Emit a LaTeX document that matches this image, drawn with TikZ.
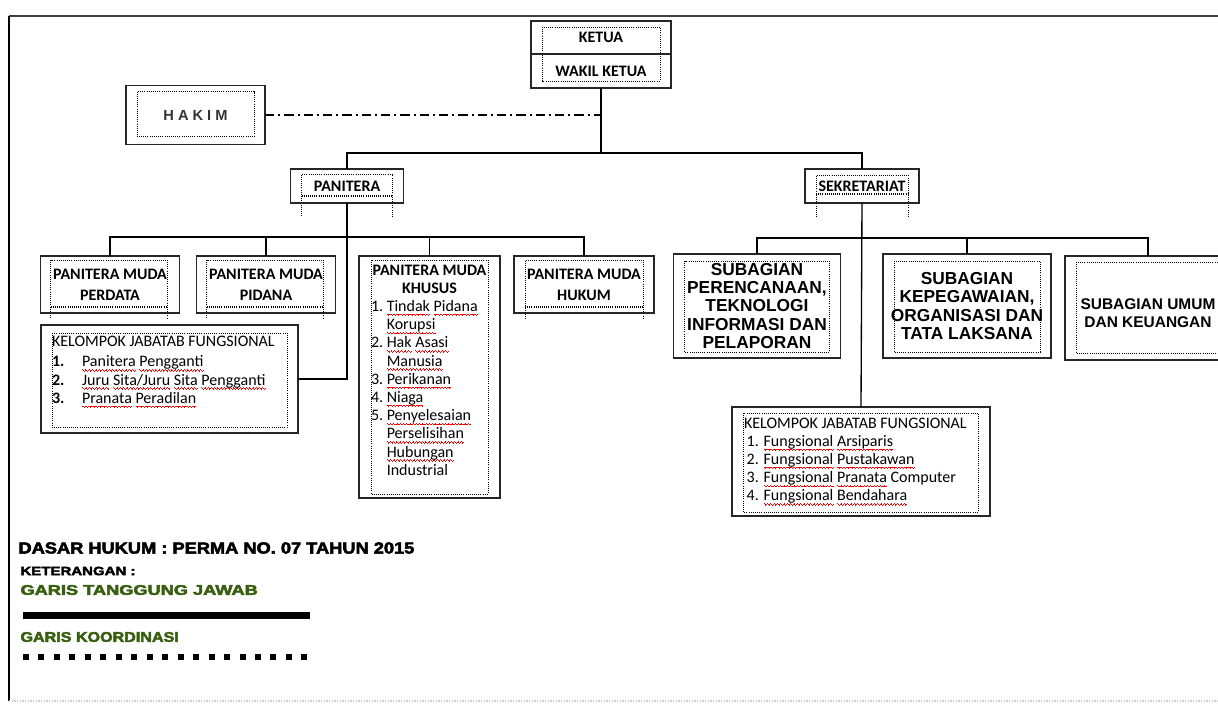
\documentclass[tikz,border=0pt]{standalone}
\usepackage{fontspec}
\setmainfont{Carlito}
\newfontfamily\arialfont{Liberation Sans}
\newfontfamily\blackfont{Liberation Sans}[FakeBold=3]
\usetikzlibrary{positioning,calc}

\definecolor{legendgreen}{RGB}{55,95,15}

% red spell-check wave under a word
\newcommand\sq[1]{\setbox0=\hbox{#1}\rlap{\color{red}\hbox to\wd0{\xleaders\hbox{\rule[-2.2pt]{0.6pt}{0.45pt}\rule[-2.7pt]{0.6pt}{0.45pt}\rule[-3.2pt]{0.6pt}{0.45pt}\rule[-2.7pt]{0.6pt}{0.45pt}}\hfil}}\box0\relax}

\tikzset{every picture/.style={line width=0.75pt}}
\tikzset{
  box/.style={draw=black!85, line width=1.1pt, fill=white, inner sep=0pt, outer sep=0pt, align=center, font=\fontsize{12}{13.65}\selectfont\bfseries},
  subbox/.style={box, font=\arialfont\fontsize{13}{13.7}\selectfont\bfseries},
  listbox/.style={draw=black!85, line width=1.1pt, fill=white, outer sep=0pt, font=\fontsize{12}{13.65}\selectfont},
  dotframe/.style={line width=0.6pt, densely dotted},
  link/.style={line width=1pt},
  coordline/.style={line width=1pt, dash pattern={on 7pt off 3pt on 1.5pt off 3pt}},
}

\begin{document}
\begin{tikzpicture}[x=0.75pt,y=0.75pt,yscale=-1,xscale=1]
        \useasboundingbox (0,0) rectangle (1218,707);
        \clip (0,0) rectangle (1218,707);

        % frame of the page
        \draw [line width=1.5pt, black!75] (9,16) -- (1218,16) ;
        \draw [line width=1.1pt] (9,16) -- (9,701) ;
        \draw [line width=1pt, black!20, densely dotted] (9,701) -- (1218,701) ;

        % Ketua / Wakil Ketua
        \node [box, minimum width=105pt, minimum height=24.75pt] (ketua) at (601,37.5) {KETUA};
        \node [box, minimum width=105pt, minimum height=25.5pt, below=0pt of ketua] (wakil) {WAKIL KETUA};
        \draw [dotframe] ($(ketua.north west)+(11,6)$) rectangle ($(wakil.south east)+(-11,-7)$) ;

        % Hakim
        \node [box, font=\arialfont\fontsize{11}{13}\selectfont\bfseries, text=black!80, minimum width=104.25pt, minimum height=44.25pt] (hakim) at (195.5,115) {\spaceskip=3pt H A K I M};
        \draw [dotframe] ($(hakim.north west)+(11,6)$) rectangle ($(hakim.south east)+(-11,-8)$) ;

        % Panitera and Sekretariat
        \node [box, minimum width=84.75pt, minimum height=25.5pt] (panitera) at (347,186) {PANITERA};
        \node [box, minimum width=85.5pt, minimum height=25.5pt] (sekretariat) at (862,186) {SEKRETARIAT};

        % Panitera Muda
        \node [box, minimum width=104.25pt, minimum height=42.75pt] (perdata) at (110,284.5) {PANITERA MUDA\\[2pt]PERDATA};
        \node [box, minimum width=104.25pt, minimum height=42.75pt] (pidana) at (266,284.5) {PANITERA MUDA\\[2pt]PIDANA};
        \node [box, minimum width=105pt, minimum height=42.75pt] (hukum) at (584,284.5) {PANITERA MUDA\\[2pt]HUKUM};
        \node [listbox, inner xsep=9pt, inner ysep=6.5pt] (khusus) at (429.5,377) {\parbox[c][168.5pt][t]{87.75pt}{%
            {\centering\bfseries PANITERA MUDA\\KHUSUS\par}%
            \begin{tabular}[t]{@{}l@{\ }l@{}}
              1. & \sq{Tindak} \sq{Pidana}\\ & \sq{Korupsi}\\ 2. & \sq{Hak} \sq{Asasi}\\ & \sq{Manusia}\\ 3. & \sq{Perikanan}\\ 4. & \sq{Niaga}\\
              5. & \sq{Penyelesaian}\\ & \sq{Perselisihan}\\ & \sq{Hubungan}\\ & Industrial
            \end{tabular}}};
        \node [listbox, inner xsep=8.25pt, inner ysep=8pt] (kjfpanitera) at (169.5,379) {\parbox[c][65pt][t]{176.25pt}{%
            KELOMPOK JABATAB FUNGSIONAL\\[2pt]
            \begin{tabular}[t]{@{}p{22.5pt}@{}l@{}}
              \textbf{1.} & \sq{Panitera} \sq{Pengganti}\\ \textbf{2.} & \sq{Juru} \sq{Sita/Juru} \sq{Sita} \sq{Pengganti}\\ \textbf{3.} & \sq{Pranata} \sq{Peradilan}
            \end{tabular}}};

        % Subagian
        \node [subbox, minimum width=125.25pt, minimum height=78pt] (perencanaan) at (757,306) {SUBAGIAN\\PERENCANAAN,\\TEKNOLOGI\\INFORMASI DAN\\PELAPORAN};
        \node [subbox, minimum width=126pt, minimum height=78pt] (kepegawaian) at (967,306) {SUBAGIAN\\KEPEGAWAIAN,\\ORGANISASI DAN\\TATA LAKSANA};
        \node [subbox, font=\arialfont\fontsize{11.6}{13.7}\selectfont\bfseries, minimum width=124.5pt, minimum height=78pt] (umum) at (1148,308) {\raisebox{-8pt}[0pt][0pt]{\begin{tabular}{@{}c@{}}SUBAGIAN UMUM\\DAN KEUANGAN\end{tabular}}};
        \node [listbox, inner xsep=9pt, inner ysep=8pt] (kjfsekretariat) at (861,461.5) {\parbox[c][65.7pt][t]{175.5pt}{%
            KELOMPOK JABATAB FUNGSIONAL\\
            \hspace*{2pt}1. \sq{Fungsional} \sq{Arsiparis}\\
            \hspace*{2pt}2. \sq{Fungsional} \sq{Pustakawan}\\
            \hspace*{2pt}3. \sq{Fungsional} \sq{Pranata} Computer\\
            \hspace*{2pt}4. \sq{Fungsional} \sq{Bendahara}}};

        % inner dotted frames
        \draw [dotframe] ($(panitera.south west)+(11,13)$) -- ($(panitera.north west)+(11,5)$) -- ($(panitera.north east)+(-11,5)$) -- ($(panitera.south east)+(-11,13)$) ;
        \draw [dotframe, line width=1.2pt] ($(panitera.south west)+(11,-7)$) -- ($(panitera.south east)+(-11,-7)$) ;
        \draw [dotframe] ($(sekretariat.south west)+(11,14)$) -- ($(sekretariat.north west)+(11,6)$) -- ($(sekretariat.north east)+(-11,6)$) -- ($(sekretariat.south east)+(-11,14)$) ;
        \draw [dotframe, line width=1.2pt] ($(sekretariat.south west)+(11,-9)$) -- ($(sekretariat.south east)+(-11,-9)$) ;
        \draw [dotframe] ($(perdata.south west)+(10,5)$) -- ($(perdata.north west)+(10,4)$) -- ($(perdata.north east)+(-12,4)$) -- ($(perdata.south east)+(-12,5)$) ;
        \draw [dotframe, line width=1.2pt] ($(perdata.south west)+(10,-6)$) -- ($(perdata.south east)+(-12,-6)$) ;
        \draw [dotframe] ($(pidana.south west)+(10,5)$) -- ($(pidana.north west)+(10,4)$) -- ($(pidana.north east)+(-12,4)$) -- ($(pidana.south east)+(-12,5)$) ;
        \draw [dotframe, line width=1.2pt] ($(pidana.south west)+(10,-6)$) -- ($(pidana.south east)+(-12,-6)$) ;
        \draw [dotframe] ($(hukum.south west)+(11,6)$) -- ($(hukum.north west)+(11,4)$) -- ($(hukum.north east)+(-11,4)$) -- ($(hukum.south east)+(-11,6)$) ;
        \draw [dotframe, line width=1.2pt] ($(hukum.south west)+(11,-6)$) -- ($(hukum.south east)+(-11,-6)$) ;
        \draw [dotframe] ($(khusus.north west)+(12,4)$) rectangle ($(khusus.south east)+(-12,-4)$) ;
        \draw [dotframe] ($(kjfpanitera.north west)+(11,8)$) rectangle ($(kjfpanitera.south east)+(-11,-6)$) ;
        \draw [dotframe] ($(perencanaan.north west)+(11,7)$) rectangle ($(perencanaan.south east)+(-11,-6)$) ;
        \draw [dotframe] ($(kepegawaian.north west)+(11,7)$) rectangle ($(kepegawaian.south east)+(-11,-6)$) ;
        \draw [dotframe] ($(umum.north west)+(11,6)$) rectangle ($(umum.south east)+(-11,-7)$) ;
        \draw [dotframe] ($(kjfsekretariat.north west)+(11,6)$) rectangle ($(kjfsekretariat.south east)+(-12,-4)$) ;

        % connectors
        \coordinate (topbus) at (601,153);
        \coordinate (paniterabus) at (347,237);
        \coordinate (sekretariatbus) at (862,238);
        \draw [link] (wakil.south) -- (topbus) ;
        \draw [coordline] (hakim.east) -- (hakim.east -| topbus) ;
        \draw [link] (panitera.north) |- (topbus) -| (sekretariat.north) ;
        \draw [link] (perdata.north) |- (paniterabus) -| (hukum.north) ;
        \draw [link] (pidana.north) -- (pidana.north |- paniterabus) ;
        \draw [link] (khusus.north) -- (khusus.north |- paniterabus) ;
        \draw [link] (panitera.south) |- (kjfpanitera.east) ;
        \draw [link] (perencanaan.north) |- (sekretariatbus) -| (umum.north) ;
        \draw [link] (kepegawaian.north) -- (kepegawaian.north |- sekretariatbus) ;
        \draw [link] (sekretariat.south) -- (kjfsekretariat.north) ;

        % legend
        \node [anchor=west, inner sep=0pt, font=\blackfont\bfseries\fontsize{12}{14}\selectfont] (dasar) at (18,548) {\scalebox{1.14}[1]{DASAR HUKUM : PERMA NO. 07 TAHUN 2015}};
        \node [anchor=west, inner sep=0pt, font=\blackfont\bfseries\fontsize{9}{11}\selectfont] (keterangan) at (20,571) {\scalebox{1.25}[1]{KETERANGAN :}};
        \node [anchor=west, inner sep=0pt, font=\blackfont\bfseries\fontsize{10.5}{12}\selectfont, text=legendgreen] (tanggungjawab) at (20,590) {\scalebox{1.3}[1]{GARIS TANGGUNG JAWAB}};
        \draw [line width=5.25pt] (23,615) -- (310,615) ;
        \node [anchor=west, inner sep=0pt, font=\blackfont\bfseries\fontsize{10.5}{12}\selectfont, text=legendgreen] (koordinasi) at (20,637) {\scalebox{1.15}[1]{GARIS KOORDINASI}};
        \draw [line width=4.5pt, dash pattern={on 4.5pt off 7.1pt}] (23,657) -- (310,657) ;
\end{tikzpicture}
\end{document}
